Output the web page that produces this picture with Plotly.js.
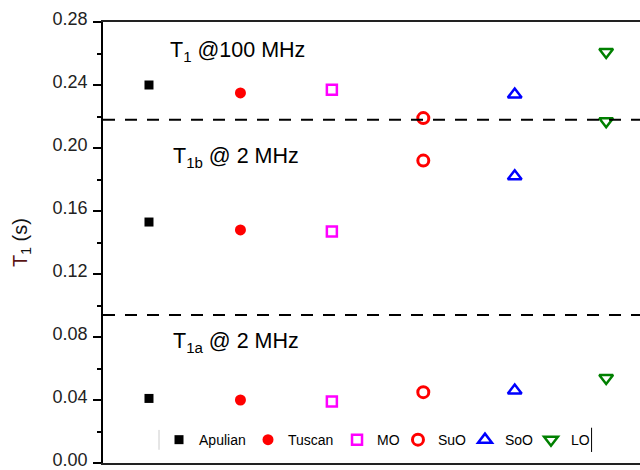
<!DOCTYPE html>
<html>
<head>
<meta charset="utf-8">
<script src="https://cdn.plot.ly/plotly-3.0.1.min.js"></script>
<style>html,body{margin:0;padding:0;background:#fff;}#chart{width:640px;height:470px;}</style>
</head>
<body>
<div id="chart"></div>
<script>
// Data
var categories = ['Apulian', 'Tuscan', 'MO', 'SuO', 'SoO', 'LO'];
var xPositions = [1, 2, 3, 4, 5, 6];
var t1At100MHz = [0.240, 0.235, 0.237, 0.219, 0.234, 0.261];
var t1bAt2MHz  = [0.153, 0.148, 0.147, 0.192, 0.182, 0.217];
var t1aAt2MHz  = [0.041, 0.040, 0.039, 0.045, 0.046, 0.054];
var dividers = [0.218, 0.094];
var yTickValues = [0, 0.04, 0.08, 0.12, 0.16, 0.20, 0.24, 0.28];

var styles = [
  {symbol: 'square', color: '#000000', size: 9, lw: 0},
  {symbol: 'circle', color: '#ff0000', size: 11, lw: 0},
  {symbol: 'square-open', color: '#ff00ff', size: 10, lw: 2.5},
  {symbol: 'circle-open', color: '#ff0000', size: 11, lw: 3},
  {symbol: 'triangle-up-open', color: '#0000ff', size: 12, lw: 2.5},
  {symbol: 'triangle-down-open', color: '#008000', size: 12, lw: 2.5}
];
// one legend box per entry, so entries sit where the reference puts them
var legendX = [0.1043, 0.2700, 0.4358, 0.5493, 0.6741, 0.7970];

var font = 'Arial, "Liberation Sans", sans-serif';

var traces = categories.map(function (name, i) {
  var st = styles[i];
  return {
    type: 'scatter', mode: 'markers', name: name,
    legend: i === 0 ? 'legend' : 'legend' + (i + 1),
    x: [xPositions[i], xPositions[i], xPositions[i]],
    y: [t1At100MHz[i], t1bAt2MHz[i], t1aAt2MHz[i]],
    marker: {symbol: st.symbol, color: st.color, size: st.size, line: {width: st.lw, color: st.color}},
    hoverinfo: 'x+y'
  };
});

var shapes = dividers.map(function (v) {
  return {type: 'line', xref: 'paper', yref: 'y', x0: 0, x1: 1, y0: v, y1: v,
          line: {color: '#000', width: 2, dash: '12px,10px'}};
});
shapes.push({type: 'line', xref: 'paper', yref: 'paper', x0: 0.1043, x1: 0.1043, y0: 0.03, y1: 0.075,
             line: {color: '#cccccc', width: 1}});
shapes.push({type: 'line', xref: 'paper', yref: 'paper', x0: 0.9098, x1: 0.9098, y0: 0.025, y1: 0.08,
             line: {color: '#000000', width: 1}});

var layout = {
  width: 640, height: 470,
  margin: {l: 103, r: 0, t: 22, b: 7, pad: 0},
  paper_bgcolor: '#fff', plot_bgcolor: '#fff',
  font: {family: font, color: '#000'},
  showlegend: true,
  xaxis: {range: [0.497, 6.37], showline: true, linecolor: '#222', linewidth: 2, mirror: true,
          showticklabels: false, ticks: '', showgrid: false, zeroline: false},
  yaxis: {range: [0, 0.28], tickvals: yTickValues, tickformat: '.2f', ticks: 'outside', ticklen: 8,
          tickwidth: 1.5, tickcolor: '#000', showline: true, linecolor: '#000', linewidth: 1.5,
          showgrid: false, zeroline: false, ticklabeloverflow: 'allow', ticklabelstandoff: 2,
          ticklabelshift: -3,
          minor: {dtick: 0.02, ticks: 'outside', ticklen: 4, tickwidth: 1.5, tickcolor: '#000'},
          tickfont: {family: font, size: 18, color: '#222'},
          title: {text: '<span style="color:#5a1414">T</span><sub>1</sub> (s)',
                  font: {family: font, size: 20, color: '#111'}, standoff: 20}},
  shapes: shapes,
  annotations: [
    {xref: 'x', yref: 'y', x: 1.212, y: 0.2612, xanchor: 'left', yanchor: 'middle', showarrow: false,
     text: 'T<sub>1</sub> @100 MHz', font: {family: font, size: 21.5, color: '#000'}},
    {xref: 'x', yref: 'y', x: 1.24, y: 0.1938, xanchor: 'left', yanchor: 'middle', showarrow: false,
     text: 'T<sub>1b</sub> @ 2 MHz', font: {family: font, size: 21.5, color: '#000'}},
    {xref: 'x', yref: 'y', x: 1.24, y: 0.0764, xanchor: 'left', yanchor: 'middle', showarrow: false,
     text: 'T<sub>1a</sub> @ 2 MHz', font: {family: font, size: 21.5, color: '#000'}}
  ]
};

legendX.forEach(function (lx, i) {
  layout[i === 0 ? 'legend' : 'legend' + (i + 1)] = {
    orientation: 'h', x: lx, xanchor: 'left', y: 0.052, yanchor: 'middle',
    font: {family: font, size: 14, color: '#000'}, bgcolor: 'rgba(0,0,0,0)', borderwidth: 0
  };
});

Plotly.newPlot('chart', traces, layout, {displayModeBar: false});
</script>
</body>
</html>
